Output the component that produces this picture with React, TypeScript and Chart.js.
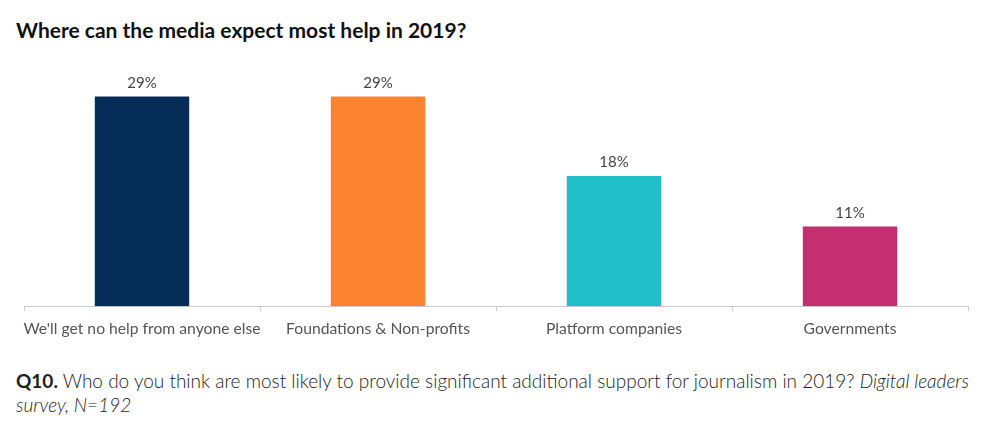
import React, { useEffect, useRef } from "react";
import { Chart, registerables } from "chart.js";

Chart.register(...registerables);

const categories = [
  "We'll get no help from anyone else",
  "Foundations & Non-profits",
  "Platform companies",
  "Governments",
];
const values = [29, 29, 18, 11];
const barColors = ["#062d57", "#fd8330", "#20bfc8", "#c42f6f"];
const valueLabels = ["29%", "29%", "18%", "11%"];

const FONT = "Lato, 'Open Sans', sans-serif";

const labelPlugin = {
  id: "valueLabels",
  afterDatasetsDraw(chart: any) {
    const ctx = chart.ctx;
    const meta = chart.getDatasetMeta(0);
    ctx.save();
    ctx.font = `15px ${FONT}`;
    ctx.fillStyle = "#444444";
    ctx.textAlign = "center";
    ctx.textBaseline = "bottom";
    meta.data.forEach((bar: any, i: number) => {
      ctx.fillText(valueLabels[i], bar.x, bar.y - 6);
    });
    ctx.restore();
  },
};

export default function App() {
  const ref = useRef<HTMLCanvasElement>(null);
  useEffect(() => {
    document.body.style.margin = "0";
    const chart = new Chart(ref.current!, {
      type: "bar",
      data: {
        labels: categories,
        datasets: [
          {
            data: values,
            backgroundColor: barColors,
            barPercentage: 0.8,
            categoryPercentage: 0.5,
          },
        ],
      },
      options: {
        animation: false,
        responsive: false,
        layout: { padding: { left: 24, right: 22, top: 0, bottom: 0 } },
        plugins: { legend: { display: false }, tooltip: { enabled: false } },
        scales: {
          y: { display: false, min: 0, max: 35 },
          x: {
            border: { display: true, color: "#cccccc", width: 1 },
            grid: {
              display: true,
              drawOnChartArea: false,
              drawTicks: true,
              tickLength: 5,
              color: "#cccccc",
              offset: true,
            },
            ticks: {
              color: "#555555",
              font: { family: FONT, size: 15.7 },
              padding: 8,
              maxRotation: 0,
              autoSkip: false,
            },
          },
        },
      },
      plugins: [labelPlugin],
    });
    return () => chart.destroy();
  }, []);

  return (
    <div style={{ position: "relative", width: 990, height: 435, background: "#fff", fontFamily: FONT }}>
      <div
        style={{
          position: "absolute",
          left: 16,
          top: 17,
          fontSize: 21,
          fontWeight: 700,
          color: "#111",
          whiteSpace: "nowrap",
          lineHeight: "26px",
        }}
      >
        Where can the media expect most help in 2019?
      </div>
      <canvas
        ref={ref}
        width={990}
        height={293}
        style={{ position: "absolute", left: 0, top: 53, width: 990, height: 293 }}
      />
      <div
        style={{
          position: "absolute",
          left: 16,
          top: 369,
          fontSize: 19,
          lineHeight: "24px",
          color: "#222",
          whiteSpace: "nowrap",
          fontWeight: 300,
        }}
      >
        <span style={{ fontWeight: 700 }}>Q10.</span> Who do you think are most likely to provide significant additional
        support for journalism in 2019? <i>Digital leaders</i>
        <br />
        <i>survey, N=192</i>
      </div>
    </div>
  );
}
